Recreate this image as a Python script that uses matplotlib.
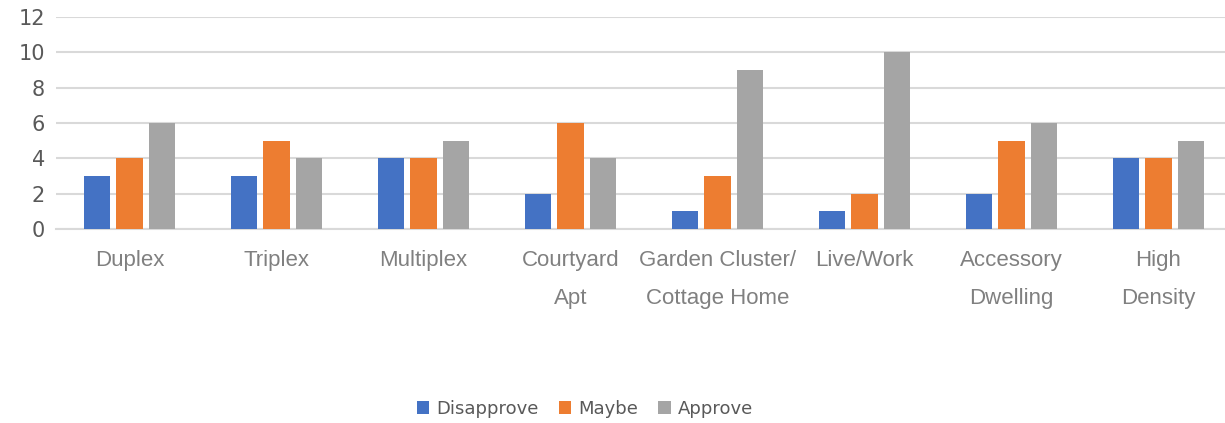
import matplotlib.pyplot as plt
import numpy as np

categories = ["Duplex", "Triplex", "Multiplex", "Courtyard\nApt", "Garden Cluster/\nCottage Home",
              "Live/Work", "Accessory\nDwelling", "High\nDensity"]
disapprove = [3, 3, 4, 2, 1, 1, 2, 4]
maybe = [4, 5, 4, 6, 3, 2, 5, 4]
approve = [6, 4, 5, 4, 9, 10, 6, 5]

fig = plt.figure(figsize=(12.25, 4.23), dpi=100)
ax = fig.add_axes([56 / 1225, 1 - 229 / 423, (1232 - 56) / 1225, 212 / 423])

x = np.arange(len(categories))
w = 0.177
step = 0.224
ax.bar(x - step, disapprove, w, color="#4472C4", label="Disapprove", zorder=3)
ax.bar(x, maybe, w, color="#ED7D31", label="Maybe", zorder=3)
ax.bar(x + step, approve, w, color="#A5A5A5", label="Approve", zorder=3)

ax.set_xlim(-0.5, len(categories) - 0.5)
ax.set_ylim(0, 12)
ax.set_yticks(range(0, 13, 2))
ax.yaxis.grid(True, color="#D9D9D9", linewidth=1.5, zorder=0)
for s in ["top", "right", "left"]:
    ax.spines[s].set_visible(False)
ax.spines["bottom"].set_color("#D9D9D9")
ax.spines["bottom"].set_linewidth(1.5)
ax.tick_params(axis="both", length=0)
ax.tick_params(axis="y", labelsize=15, labelcolor="#595959", pad=8)
ax.set_xticks(x)
ax.set_xticklabels(categories, fontsize=16, color="#808080", family="Liberation Sans",
                   linespacing=2.1, va="top")
ax.tick_params(axis="x", pad=15)

fig.legend(loc="center", bbox_to_anchor=(585 / 1225, 1 - 409 / 423), ncol=3, frameon=False,
           fontsize=13, handlelength=0.7, handleheight=0.7, handletextpad=0.4,
           columnspacing=1.1, labelcolor="#595959")

fig.savefig("out.png", dpi=100)
